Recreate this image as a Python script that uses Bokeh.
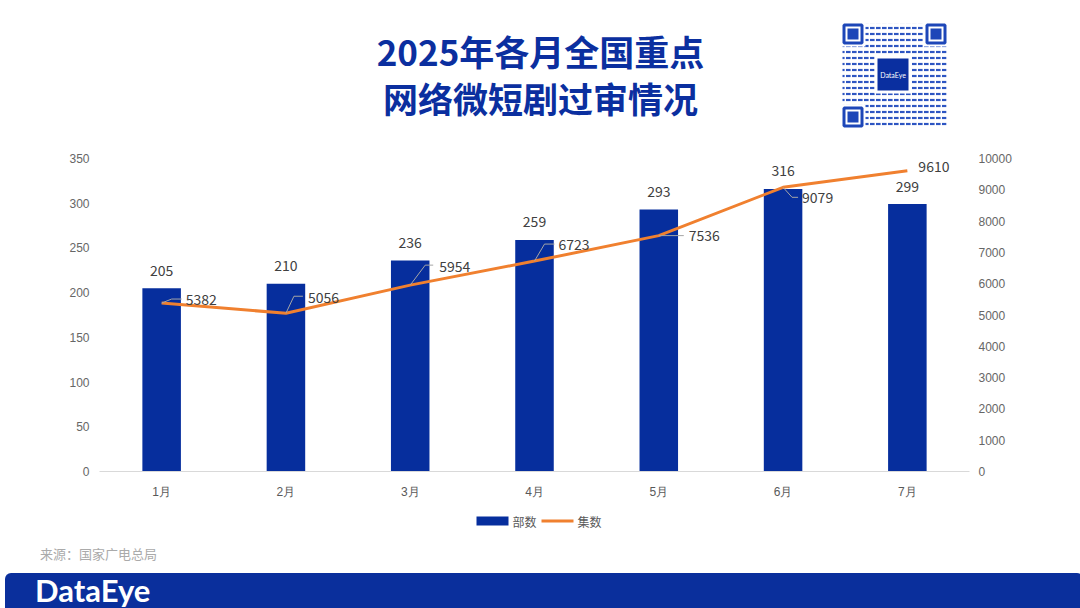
from bokeh.plotting import figure
from bokeh.models import Range1d, LinearAxis, FixedTicker, ColumnDataSource, Div
from bokeh.layouts import column
from bokeh.embed import file_html
from bokeh.resources import INLINE
from bokeh.core.properties import value

# ---------------- data ----------------
months = ["1月", "2月", "3月", "4月", "5月", "6月", "7月"]
dramas = [205, 210, 236, 259, 293, 316, 299]          # 部数
episodes = [5382, 5056, 5954, 6723, 7536, 9079, 9610]  # 集数
left_ticks = [0, 50, 100, 150, 200, 250, 300, 350]
right_ticks = [0, 1000, 2000, 3000, 4000, 5000, 6000, 7000, 8000, 9000, 10000]
title_lines = ["2025年各月全国重点", "网络微短剧过审情况"]
series_names = ["部数", "集数"]
source_note = "来源：国家广电总局"
brand = "DataEye"

# ---------------- styles ----------------
W = 1064
BL, BR = 99, 95            # shared left/right borders (frames aligned in the column)
BLUE = "#062e9d"
ORANGE = "#f0802f"
TITLE_BLUE = "#0b2f9f"
CJK = "Noto Sans CJK SC"
# label / leader offsets in screen pixels (dx right, dy down)
elbow_off = [(10, -4), (8, -17), (15, -20), (10, -17), (3, 0), (9, 10), (0, 0)]
end_off = [(20, -4), (17, -17), (23, -20), (20, -17), (25, 0), (15, 10), (0, 0)]
label_off = [(24, -4), (22, -16), (29, -19), (24, -17), (30, 0), (19, 10), (11, -4)]


def deco(height, y0, y1):
    f = figure(width=W, height=height, x_range=Range1d(BL, W - BR), y_range=Range1d(y1, y0),
               x_axis_type=None, y_axis_type=None, output_backend="svg",
               toolbar_location=None, min_border_left=BL, min_border_right=BR,
               min_border_top=0, min_border_bottom=0)
    f.grid.visible = False
    f.outline_line_color = None
    return f


# ---------------- top (title + QR) ----------------
top = deco(145, 0, 145)
top.text(x=[540, 540], y=[50, 97], text=title_lines, text_align="center",
         text_baseline="middle", text_font=value(CJK), text_font_style="bold",
         text_font_size="35px", text_color=TITLE_BLUE)
top.quad(left=[842], right=[946], top=[23], bottom=[127], fill_color="white",
         line_color=None, hatch_pattern="horizontal_dash", hatch_color="#2d55c2",
         hatch_scale=6, hatch_weight=2.2)
fx = [842, 925, 842]
fy = [23, 23, 106]
top.quad(left=[x - 2 for x in fx], right=[x + 23 for x in fx], top=[y - 2 for y in fy],
         bottom=[y + 23 for y in fy], fill_color="white", line_color=None)
top.quad(left=[x + 1.5 for x in fx], right=[x + 19.5 for x in fx], top=[y + 1.5 for y in fy],
         bottom=[y + 19.5 for y in fy], fill_color="white", line_color="#1d46b8", line_width=3)
top.quad(left=[x + 5 for x in fx], right=[x + 16 for x in fx], top=[y + 5 for y in fy],
         bottom=[y + 16 for y in fy], fill_color="#1d46b8", line_color=None)
top.quad(left=[874], right=[911], top=[55], bottom=[93], fill_color="white", line_color=None)
top.quad(left=[877], right=[908], top=[58], bottom=[90], fill_color="#0a2fa0", line_color=None)
top.text(x=[892.5], y=[74], text=[brand], text_align="center", text_baseline="middle",
         text_font=value("Lato"), text_font_size="7px", text_color="white")

# ---------------- chart ----------------
src = ColumnDataSource(dict(
    idx=list(range(len(months))),
    dramas=dramas,
    episodes=episodes,
    d_text=[str(v) for v in dramas],
    e_text=[str(v) for v in episodes],
    lab_dx=[o[0] for o in label_off],
    lab_dy=[o[1] for o in label_off],
))

CH = 360
MB_T, MB_B = 13, 34
p = figure(width=W, height=CH, x_range=Range1d(-0.5, len(months) - 0.5),
           y_range=Range1d(left_ticks[0], left_ticks[-1]),
           output_backend="svg", toolbar_location=None,
           min_border_left=BL, min_border_right=BR, min_border_top=MB_T, min_border_bottom=MB_B)
p.extra_y_ranges = {"right": Range1d(right_ticks[0], right_ticks[-1])}
p.grid.visible = False
p.outline_line_color = None

frame_w = W - BL - BR
frame_h = CH - MB_T - MB_B
ux = frame_w / len(months)                          # px per category
uy = (right_ticks[-1] - right_ticks[0]) / frame_h   # right-axis units per px

xa = p.xaxis[0]
xa.ticker = FixedTicker(ticks=list(range(len(months))))
xa.major_label_overrides = {i: m for i, m in enumerate(months)}
xa.axis_line_color = "#d9d9d9"
xa.major_tick_line_color = None
xa.minor_tick_line_color = None
xa.major_tick_out = 0
xa.major_label_standoff = 13
xa.major_label_text_font_size = "12px"
xa.major_label_text_color = "#595959"

ya = p.yaxis[0]
ya.ticker = FixedTicker(ticks=left_ticks)
ya.axis_line_color = None
ya.major_tick_line_color = None
ya.minor_tick_line_color = None
ya.major_tick_out = 0
ya.major_label_standoff = 10
ya.major_label_text_font_size = "12px"
ya.major_label_text_color = "#666666"

ra = LinearAxis(y_range_name="right", ticker=FixedTicker(ticks=right_ticks))
ra.axis_line_color = None
ra.major_tick_line_color = None
ra.minor_tick_line_color = None
ra.major_tick_out = 0
ra.major_label_standoff = 9
ra.major_label_text_font_size = "12px"
ra.major_label_text_color = "#666666"
p.add_layout(ra, "right")

bars = p.vbar(x="idx", top="dramas", width=0.31, source=src, fill_color=BLUE, line_color=None)
p.text(x="idx", y="dramas", text="d_text", source=src, y_offset=-18, text_align="center",
       text_baseline="middle", text_font=value(CJK), text_font_size="14px", text_color="#404040")

line = p.line(x="idx", y="episodes", source=src, y_range_name="right", line_color=ORANGE,
              line_width=3)

lx, ly = [], []
for i, v in enumerate(episodes):
    if elbow_off[i] == (0, 0):
        continue
    lx.append([i, i + elbow_off[i][0] / ux, i + end_off[i][0] / ux])
    ly.append([v, v - elbow_off[i][1] * uy, v - end_off[i][1] * uy])
p.multi_line(xs=lx, ys=ly, y_range_name="right", line_color="#a6a6a6", line_width=1)

p.text(x="idx", y="episodes", text="e_text", source=src, y_range_name="right",
       x_offset="lab_dx", y_offset="lab_dy", text_align="left", text_baseline="middle",
       text_font=value(CJK), text_font_size="14px", text_color="#404040")

# ---------------- legend strip ----------------
leg = deco(30, 505, 535)
leg.quad(left=[476], right=[508], top=[516], bottom=[525], fill_color=BLUE, line_color=None)
leg.segment(x0=[541], y0=[520.5], x1=[573], y1=[520.5], line_color=ORANGE, line_width=3)
leg.text(x=[512, 577], y=[520.5, 520.5], text=series_names, text_align="left",
         text_baseline="middle", text_font=value(CJK), text_font_size="12px",
         text_color="#595959")

# ---------------- bottom (source + footer) ----------------
bot_html = (
    '<div style="position:relative;width:1078px;height:65px;">'
    '<div style="position:absolute;left:35px;top:5px;font-family:\'Noto Sans CJK SC\';'
    'font-size:13px;line-height:18px;color:#aaaaaa;white-space:nowrap;">' + source_note + '</div>'
    '<div style="position:absolute;left:0px;top:33px;width:1078px;height:40px;'
    'background:#0a2f9c;border-radius:6px 6px 0 0;"></div>'
    '<div style="position:absolute;left:30px;top:34px;font-family:Lato;font-weight:bold;'
    'font-size:31px;line-height:32px;color:white;white-space:nowrap;">' + brand + '</div>'
    '</div>'
)
bot = Div(text=bot_html, width=1078, height=65)

layout = column(top, p, leg, bot)
open("out.html", "w").write(file_html(layout, INLINE))
